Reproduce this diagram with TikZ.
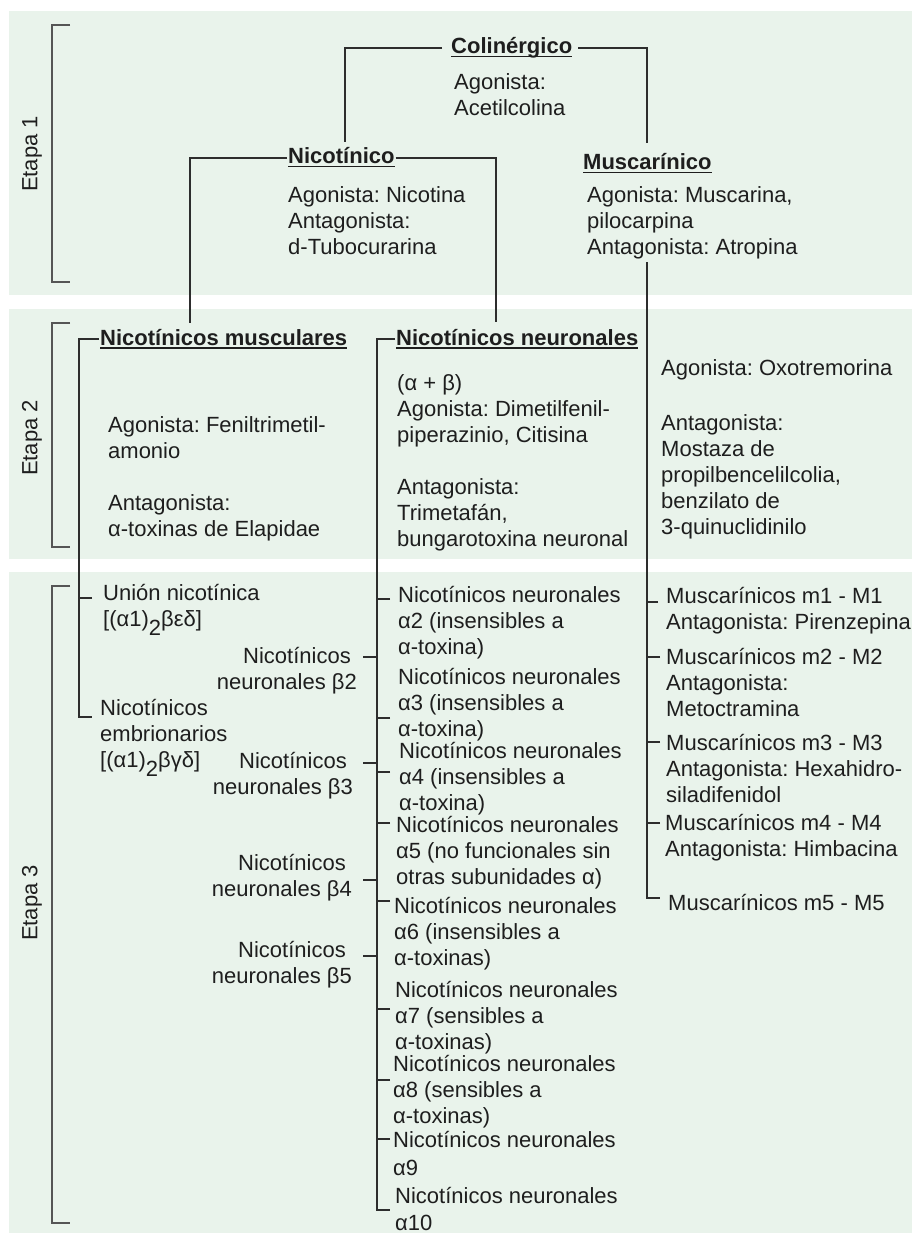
\documentclass[tikz,border=0pt]{standalone}
\usepackage{fontspec}
\setmainfont{Liberation Sans}
\frenchspacing
\definecolor{panelc}{RGB}{233,243,235}
\definecolor{linec}{RGB}{45,45,45}
\definecolor{brkc}{RGB}{85,85,85}
\definecolor{txtc}{RGB}{30,30,30}
\newcommand{\fsz}{\fontsize{22}{26}\selectfont}
\newcommand{\tb}{\rule{0pt}{20pt}}
\newcommand{\lowtwo}{\raisebox{-9pt}{2}}
\newsavebox{\ulbox}
\newcommand{\ulbar}[1]{\sbox{\ulbox}{#1}\rlap{\rule[-3.5pt]{\wd\ulbox}{1.6pt}}\usebox{\ulbox}}
\begin{document}
\begin{tikzpicture}[x=1pt,y=-1pt,
  conn/.style={draw=linec, line width=2pt},
  brk/.style={draw=brkc, line width=1.8pt},
  txt/.style={anchor=north west, inner sep=0pt, align=left, font=\fsz\frenchspacing, text=txtc},
  rtxt/.style={anchor=north east, inner sep=0pt, align=right, font=\fsz\frenchspacing, text=txtc},
  ttl/.style={anchor=base west, inner xsep=1pt, inner ysep=0pt, font=\fsz\bfseries\frenchspacing, text=txtc},
  etapa/.style={rotate=90, font=\fsz, text=txtc, inner sep=0pt}]
\useasboundingbox (0,0) rectangle (912,1233);
% panels
\fill[panelc] (9,11) rectangle (912,295);
\fill[panelc] (9,309) rectangle (912,559);
\fill[panelc] (9,572) rectangle (912,1233);
% stage brackets
\draw[brk] (70,25) -- (52,25) -- (52,282) -- (70,282);
\draw[brk] (70,323) -- (52,323) -- (52,547) -- (70,547);
\draw[brk] (70,586) -- (52,586) -- (52,1223) -- (70,1223);
\node[etapa] (et1) at (32,154) {Etapa 1};
\node[etapa] (et2) at (32,438) {Etapa 2};
\node[etapa] (et3) at (32,903) {Etapa 3};
% stage 1
\node[ttl] (col) at (450,54) {\ulbar{Colinérgico}};
\node[txt] (colB) at (454,69) {\tb Agonista:\\Acetilcolina};
\node[ttl] (nic) at (287,164) {\ulbar{Nicotínico}};
\node[txt] (nicB) at (288,182) {\tb Agonista: Nicotina\\Antagonista:\\d-Tubocurarina};
\node[ttl] (mus) at (582,170) {\ulbar{Muscarínico}};
\node[txt] (musB) at (587,182) {\tb Agonista: Muscarina,\\pilocarpina\\Antagonista: Atropina};
% stage 2
\node[ttl] (nmus) at (99,345) {\ulbar{Nicotínicos musculares}};
\node[txt] (nmusA) at (108,412) {\tb Agonista: Feniltrimetil-\\amonio};
\node[txt] (nmusB) at (108,490) {\tb Antagonista:\\α-toxinas de Elapidae};
\node[ttl] (nneu) at (395,345) {\ulbar{Nicotínicos neuronales}};
\node[txt] (nneuA) at (397,370) {\tb (α + β)\\Agonista: Dimetilfenil-\\piperazinio, Citisina};
\node[txt] (nneuB) at (397,474) {\tb Antagonista:\\Trimetafán,\\bungarotoxina neuronal};
\node[txt] (muscA) at (661,355) {\tb Agonista: Oxotremorina};
\node[txt] (muscB) at (661,410) {\tb Antagonista:\\Mostaza de\\propilbencelilcolia,\\benzilato de\\3-quinuclidinilo};
% stage 3 - muscle
\node[txt] (union) at (103,580) {\tb Unión nicotínica\\{[}(α1)\lowtwo βεδ]};
\node[txt] (embr) at (100,695) {\tb Nicotínicos\\embrionarios\\{[}(α1)\lowtwo βγδ]};
% stage 3 - beta
\node[rtxt] (b2) at (357,643) {\tb Nicotínicos\hspace*{6pt}\\neuronales β2};
\node[rtxt] (b3) at (353,748) {\tb Nicotínicos\hspace*{6pt}\\neuronales β3};
\node[rtxt] (b4) at (352,850) {\tb Nicotínicos\hspace*{6pt}\\neuronales β4};
\node[rtxt] (b5) at (352,937) {\tb Nicotínicos\hspace*{6pt}\\neuronales β5};
% stage 3 - alpha
\node[txt] (a2) at (398,582) {\tb Nicotínicos neuronales\\α2 (insensibles a\\α-toxina)};
\node[txt] (a3) at (398,664) {\tb Nicotínicos neuronales\\α3 (insensibles a\\α-toxina)};
\node[txt] (a4) at (399,738) {\tb Nicotínicos neuronales\\α4 (insensibles a\\α-toxina)};
\node[txt] (a5) at (396,812) {\tb Nicotínicos neuronales\\α5 (no funcionales sin\\otras subunidades α)};
\node[txt] (a6) at (394,893) {\tb Nicotínicos neuronales\\α6 (insensibles a\\α-toxinas)};
\node[txt] (a7) at (395,977) {\tb Nicotínicos neuronales\\α7 (sensibles a\\α-toxinas)};
\node[txt] (a8) at (393,1051) {\tb Nicotínicos neuronales\\α8 (sensibles a\\α-toxinas)};
\node[txt] (a9) at (393,1127) {\tb Nicotínicos neuronales\\[2pt]α9};
\node[txt] (a10) at (395,1183) {\tb Nicotínicos neuronales\\[1pt]α10};
% stage 3 - muscarinic
\node[txt] (m1) at (666,583) {\tb Muscarínicos m1 - M1\\Antagonista: Pirenzepina};
\node[txt] (m2) at (666,644) {\tb Muscarínicos m2 - M2\\Antagonista:\\Metoctramina};
\node[txt] (m3) at (666,730) {\tb Muscarínicos m3 - M3\\Antagonista: Hexahidro-\\siladifenidol};
\node[txt] (m4) at (665,810) {\tb Muscarínicos m4 - M4\\Antagonista: Himbacina};
\node[txt] (m5) at (668,890) {\tb Muscarínicos m5 - M5};
% junction coordinates
\coordinate (j1) at (345,142);
\coordinate (j2) at (647,143);
\coordinate (j3) at (190,323);
\coordinate (j4) at (496,322);
\coordinate (j5) at (647,262);
\coordinate (j6) at (647,898);
\coordinate (tm5) at (660,898);
\coordinate (tm1) at (658,602);
\coordinate (tm2) at (660,657);
\coordinate (tm3) at (660,742);
\coordinate (tm4) at (660,823);
\coordinate (k2) at (79,717);
\coordinate (te) at (92,717);
\coordinate (tu) at (92,598);
\coordinate (k3) at (377,1210);
\coordinate (ta10) at (390,1210);
\coordinate (ta2) at (390,599);
\coordinate (ta3) at (390,718);
\coordinate (ta4) at (390,772);
\coordinate (ta5) at (390,823);
\coordinate (ta6) at (390,901);
\coordinate (ta7) at (390,1009);
\coordinate (ta8) at (390,1080);
\coordinate (ta9) at (390,1139);
\coordinate (tb2) at (363,657);
\coordinate (tb3) at (363,763);
\coordinate (tb4) at (363,880);
\coordinate (tb5) at (363,956);
% connectors
\draw[conn, shorten <=8pt] (col.west) -| (j1);
\draw[conn, shorten <=5pt] (col.east) -| (j2);
\draw[conn] (nic.west) -| (j3);
\draw[conn] (nic.east) -| (j4);
\draw[conn] (j5) -- (j6) -- (tm5);
\foreach \t in {tm1,tm2,tm3,tm4} \draw[conn] (\t) -- (\t -| j5);
\draw[conn] (nmus.west) -| (k2) -- (te);
\draw[conn] (tu) -- (tu -| k2);
\draw[conn] (nneu.west) -| (k3) -- (ta10);
\foreach \t in {ta2,ta3,ta4,ta5,ta6,ta7,ta8,ta9,tb2,tb3,tb4,tb5} \draw[conn] (\t) -- (\t -| k3);
\end{tikzpicture}
\end{document}
